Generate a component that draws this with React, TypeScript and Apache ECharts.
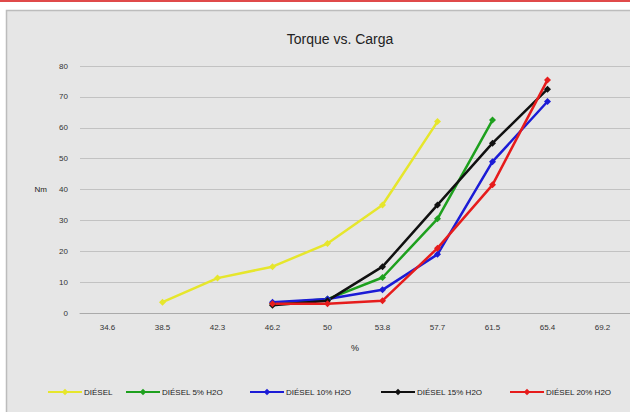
import React, { useEffect, useRef } from "react";
import * as echarts from "echarts";

const categories = ["34.6", "38.5", "42.3", "46.2", "50", "53.8", "57.7", "61.5", "65.4", "69.2"];
const seriesNames = ["DIÉSEL", "DIÉSEL 5% H2O", "DIÉSEL 10% H2O", "DIÉSEL 15% H2O", "DIÉSEL 20% H2O"];
const diesel = [null, 3.5, 11.3, 15, 22.5, 35, 62, null, null, null];
const diesel5 = [null, null, null, 3, 4.5, 11.5, 30.5, 62.5, null, null];
const diesel10 = [null, null, null, 3.5, 4.5, 7.5, 19, 49, 68.5, null];
const diesel15 = [null, null, null, 2.5, 4, 15, 35, 55, 72.5, null];
const diesel20 = [null, null, null, 3, 3, 4, 21, 41.5, 75.5, null];
const colors = ["#e6e62c", "#1ea01e", "#1c1cd6", "#111111", "#e61c1c"];
const legendLeft = [42, 120, 244, 375, 504];

export default function App() {
  const ref = useRef<HTMLDivElement>(null);
  useEffect(() => {
    const chart = echarts.init(ref.current!, null, { renderer: "svg" });
    const all = [diesel, diesel5, diesel10, diesel15, diesel20];
    chart.setOption({
      animation: false,
      backgroundColor: "#ffffff",
      textStyle: { fontFamily: "Liberation Sans" },
      title: {
        text: "Torque vs. Carga",
        left: 335,
        top: 27,
        textAlign: "center",
        textStyle: { fontSize: 14, fontWeight: "normal", color: "#222", fontFamily: "Liberation Sans" },
      },
      graphic: [
        { type: "rect", z: -100, shape: { x: 0, y: 0, width: 630, height: 2 }, style: { fill: "#e04a4a" } },
        {
          type: "rect",
          z: -100,
          shape: { x: 6.5, y: 10.5, width: 640, height: 420 },
          style: { fill: "#e6e6e6", stroke: "#bcbcbc", lineWidth: 1.5 },
        },
      ],
      legend: seriesNames.map((n, i) => ({
        data: [n],
        left: legendLeft[i],
        top: 383,
        itemWidth: 34,
        itemHeight: 8,
        textStyle: { fontSize: 8, color: "#222", padding: [0, 0, 0, -3] },
      })),
      grid: { left: 80, top: 66, width: 570, height: 247 },
      xAxis: {
        type: "category",
        data: categories,
        name: "%",
        nameLocation: "middle",
        nameGap: 30,
        nameTextStyle: { fontSize: 9, color: "#222" },
        axisLine: { lineStyle: { color: "#aaaaaa" } },
        axisTick: { show: false },
        axisLabel: { fontSize: 8, color: "#333", margin: 10 },
      },
      yAxis: {
        type: "value",
        min: 0,
        max: 80,
        interval: 10,
        name: "Nm",
        nameLocation: "middle",
        nameRotate: 0,
        nameGap: 33,
        nameTextStyle: { fontSize: 8, color: "#222" },
        axisLine: { show: false },
        axisTick: { show: false },
        axisLabel: { fontSize: 8, color: "#333", margin: 12 },
        splitLine: { lineStyle: { color: "#c2c2c2", width: 1 } },
      },
      series: seriesNames.map((n, i) => ({
        name: n,
        type: "line",
        data: all[i],
        color: colors[i],
        symbol: "diamond",
        symbolSize: 7,
        lineStyle: { width: 2.5 },
        connectNulls: false,
      })),
    });
    return () => chart.dispose();
  }, []);
  return <div ref={ref} style={{ position: "fixed", left: 0, top: 0, width: 630, height: 412 }} />;
}
